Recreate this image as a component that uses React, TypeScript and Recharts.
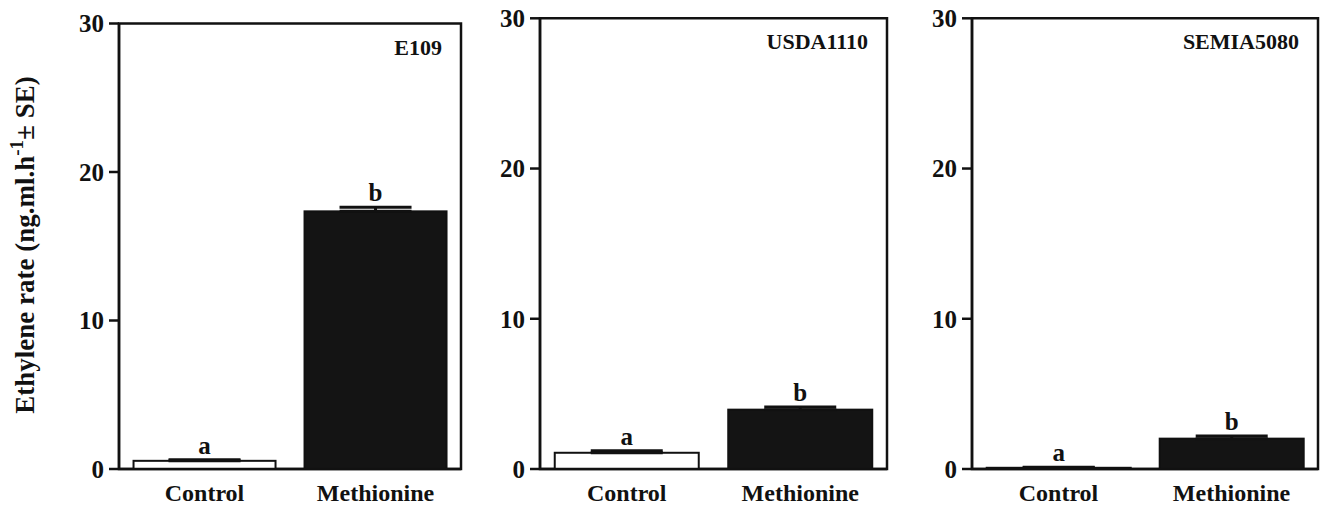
import { BarChart, Bar, XAxis, YAxis, ErrorBar, LabelList, ReferenceArea } from 'recharts';

const categories = ['Control', 'Methionine'];
const letters = ['a', 'b'];
const yTicks = [0, 10, 20, 30];

const e109Values = [0.55, 17.35];
const e109Errors = [0.07, 0.27];
const usdaValues = [1.08, 3.95];
const usdaErrors = [0.14, 0.17];
const semiaValues = [0.08, 2.02];
const semiaErrors = [0.03, 0.17];

const FONT = '"Liberation Serif", "Times New Roman", serif';
const INK = '#111';
const BAR_FILLS = ['#ffffff', '#141414'];

const toRows = (values: number[], errors: number[]) =>
  categories.map((name, i) => ({
    name,
    value: values[i],
    err: [0, errors[i]],
    letter: letters[i],
  }));

function YLabel() {
  const cy = 245;
  return (
    <text
      x={34}
      y={cy}
      transform={`rotate(-90, 34, ${cy})`}
      textAnchor="middle"
      fontFamily={FONT}
      fontWeight="bold"
      fontSize={27}
      fill={INK}
    >
      Ethylene rate (ng.ml.h
      <tspan dy={-11} fontSize={19}>-1</tspan>
      <tspan dy={11}>± SE)</tspan>
    </text>
  );
}

type PanelProps = {
  strain: string;
  values: number[];
  errors: number[];
  left: number;
  width: number;
  top: number;
  right: number;
  yAxisWidth: number;
  showYLabel?: boolean;
};

function Panel({ strain, values, errors, left, width, top, right, yAxisWidth, showYLabel }: PanelProps) {
  const data = toRows(values, errors);
  const renderLetter = (props: any) => {
    const { x, y, width: w, height: h, index } = props;
    const v = values[index];
    const pxPerUnit = v > 0 ? h / v : 0;
    const ty = y - errors[index] * pxPerUnit - 6;
    return (
      <text x={x + w / 2} y={ty} textAnchor="middle" fontFamily={FONT} fontWeight="bold" fontSize={25} fill={INK}>
        {letters[index]}
      </text>
    );
  };
  return (
    <div style={{ position: 'absolute', left, top: 0, width, height: 505 }}>
      <BarChart
        width={width}
        height={505}
        data={data}
        margin={{ top, right, bottom: 0, left: 0 }}
        barCategoryGap="8.5%"
      >
        <XAxis
          dataKey="name"
          height={36}
          tickLine={false}
          tickSize={0}
          tickMargin={15}
          axisLine={{ stroke: INK, strokeWidth: 2.5 }}
          tick={{ fontFamily: FONT, fontWeight: 'bold', fontSize: 24, fill: INK }}
        />
        <YAxis
          domain={[0, 30]}
          ticks={yTicks}
          width={yAxisWidth}
          tickSize={10}
          tickMargin={5}
          tickLine={{ stroke: INK, strokeWidth: 2.5 }}
          axisLine={{ stroke: INK, strokeWidth: 2.5 }}
          tick={{ fontFamily: FONT, fontWeight: 'bold', fontSize: 25, fill: INK }}
          label={showYLabel ? { content: () => <YLabel /> } : undefined}
        />
        <ReferenceArea y1={0} y2={30} fill="none" stroke={INK} strokeWidth={2.5} ifOverflow="visible" />
        <Bar
          dataKey="value"
          isAnimationActive={false}
          shape={(p: any) => (
            <rect x={p.x} y={p.y} width={p.width} height={p.height} fill={BAR_FILLS[p.index]} stroke={INK} strokeWidth={2} />
          )}
        >
          <ErrorBar dataKey="err" width={36} strokeWidth={3} stroke={INK} direction="y" isAnimationActive={false} />
          <LabelList dataKey="letter" content={renderLetter} />
        </Bar>
      </BarChart>
      <div
        style={{
          position: 'absolute',
          right: right + 19,
          top: top + 12,
          fontFamily: FONT,
          fontWeight: 'bold',
          fontSize: 22,
          lineHeight: '24px',
          color: INK,
        }}
      >
        {strain}
      </div>
    </div>
  );
}

export default function App() {
  return (
    <div style={{ position: 'absolute', left: 0, top: 0, width: 1320, height: 505, background: '#fff' }}>
      <Panel strain="E109" values={e109Values} errors={e109Errors} left={0} width={470} top={23.5} right={9} yAxisWidth={119} showYLabel />
      <Panel strain="USDA1110" values={usdaValues} errors={usdaErrors} left={470} width={430} top={18.3} right={13} yAxisWidth={70} />
      <Panel strain="SEMIA5080" values={semiaValues} errors={semiaErrors} left={900} width={420} top={18.3} right={2} yAxisWidth={72} />
    </div>
  );
}
